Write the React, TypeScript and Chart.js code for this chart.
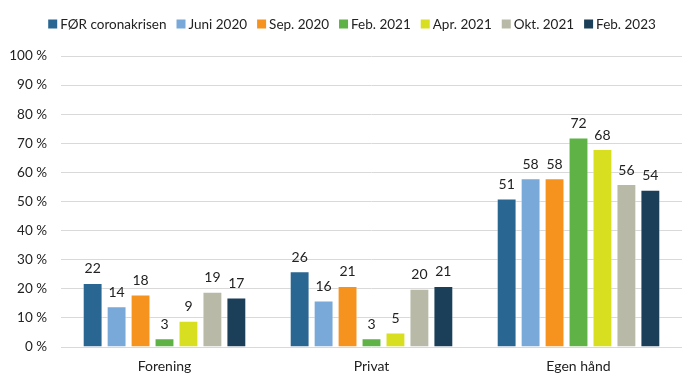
import React, { useEffect, useRef } from "react";
import { Chart, registerables } from "chart.js";

Chart.register(...registerables);

const categories = ["Forening", "Privat", "Egen hånd"];
const seriesNames = ["FØR coronakrisen", "Juni 2020", "Sep. 2020", "Feb. 2021", "Apr. 2021", "Okt. 2021", "Feb. 2023"];
const foer = [22, 26, 51];
const juni2020 = [14, 16, 58];
const sep2020 = [18, 21, 58];
const feb2021 = [3, 3, 72];
const apr2021 = [9, 5, 68];
const okt2021 = [19, 20, 56];
const feb2023 = [17, 21, 54];
const colors = ["#2a6692", "#79a9d8", "#f6931f", "#5fb246", "#d8df21", "#b8b9a6", "#1b3f59"];
const yTicks = [0, 10, 20, 30, 40, 50, 60, 70, 80, 90, 100];

const FONT = "Lato, 'Open Sans', sans-serif";

const labelPlugin = {
  id: "valueLabels",
  afterDatasetsDraw(chart: any) {
    const ctx = chart.ctx;
    ctx.save();
    ctx.font = `14px ${FONT}`;
    ctx.fillStyle = "#222";
    ctx.textAlign = "center";
    ctx.textBaseline = "bottom";
    chart.data.datasets.forEach((ds: any, i: number) => {
      const meta = chart.getDatasetMeta(i);
      meta.data.forEach((bar: any, j: number) => {
        ctx.fillText(String(ds.data[j]), bar.x, bar.y - 7);
      });
    });
    ctx.restore();
  },
};

const legendPlugin = {
  id: "customLegend",
  afterDraw(chart: any) {
    const ctx = chart.ctx;
    ctx.save();
    ctx.font = `13.5px ${FONT}`;
    ctx.textBaseline = "middle";
    ctx.textAlign = "left";
    const box = 9;
    const gapBox = 3;
    const gapItem = 10;
    const widths = chart.data.datasets.map((ds: any) => ctx.measureText(ds.label).width);
    const total =
      widths.reduce((a: number, b: number) => a + b + box + gapBox, 0) + gapItem * (widths.length - 1);
    let x = (chart.width - total) / 2 + 2;
    const y = 24;
    chart.data.datasets.forEach((ds: any, i: number) => {
      ctx.fillStyle = ds.backgroundColor;
      ctx.fillRect(x, y - box / 2, box, box);
      ctx.fillStyle = "#222";
      ctx.fillText(ds.label, x + box + gapBox, y + 1);
      x += box + gapBox + widths[i] + gapItem;
    });
    ctx.restore();
  },
};

export default function App() {
  const ref = useRef<HTMLCanvasElement>(null);
  useEffect(() => {
    document.body.style.margin = "0";
    const all = [foer, juni2020, sep2020, feb2021, apr2021, okt2021, feb2023];
    const chart = new Chart(ref.current!, {
      type: "bar",
      data: {
        labels: categories,
        datasets: all.map((d, i) => ({
          label: seriesNames[i],
          data: d,
          backgroundColor: colors[i],
          borderColor: "rgba(255,255,255,0.5)",
          borderWidth: 1,
          categoryPercentage: 0.81,
          barPercentage: 0.83,
        })),
      },
      options: {
        animation: false,
        responsive: false,
        maintainAspectRatio: false,
        layout: { padding: { left: 0, right: 18, top: 56, bottom: 0 } },
        plugins: {
          legend: { display: false },
          tooltip: { enabled: false },
        },
        scales: {
          x: {
            grid: { display: false },
            border: { display: false },
            afterFit: (axis: any) => {
              axis.height = 39;
            },
            ticks: { color: "#222", font: { family: FONT, size: 14 }, padding: 3 },
          },
          y: {
            min: 0,
            max: 100,
            afterBuildTicks: (axis: any) => {
              axis.ticks = yTicks.map((v) => ({ value: v }));
            },
            afterFit: (axis: any) => {
              axis.width = 61;
            },
            grid: { color: "#d9d9d9", lineWidth: 1, drawTicks: false },
            border: { display: false },
            ticks: {
              color: "#222",
              font: { family: FONT, size: 13.5 },
              padding: 14,
              callback: (v: any) => `${v} %`,
            },
          },
        },
      },
      plugins: [labelPlugin, legendPlugin],
    });
    return () => chart.destroy();
  }, []);
  return <canvas ref={ref} width={700} height={386} style={{ display: "block" }} />;
}
